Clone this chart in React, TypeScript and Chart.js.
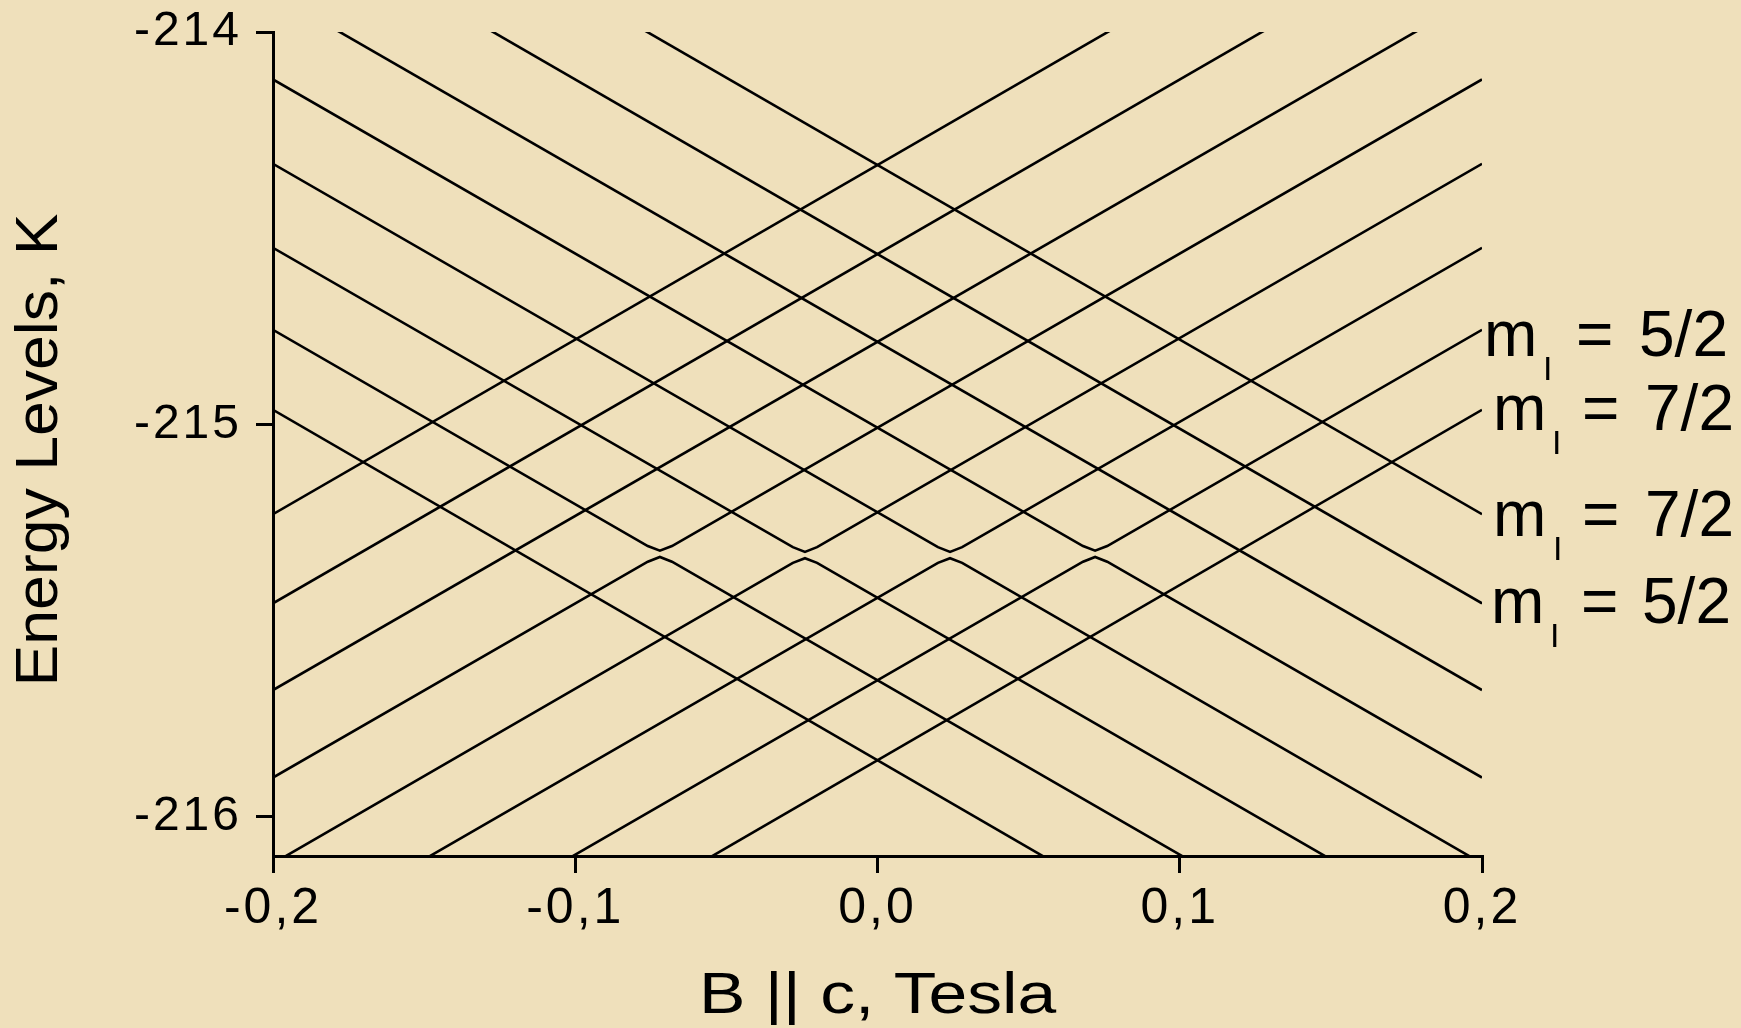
import React, { useEffect, useRef } from 'react';
import { Chart, registerables } from 'chart.js';

Chart.register(...registerables);

// ---------- data ----------
const X_MIN = -0.2;
const X_MAX = 0.2;
const Y_MIN = -216.1;
const Y_MAX = -214;

const X_TICKS = [-0.2, -0.1, 0, 0.1, 0.2];
const X_TICK_LABELS = ['-0,2', '-0,1', '0,0', '0,1', '0,2'];
const Y_TICKS = [-216, -215, -214];
const Y_TICK_LABELS = ['-216', '-215', '-214'];

const X_TITLE = 'B || c, Tesla';
const Y_TITLE = 'Energy Levels, K';

// field values at the two ends of every level
const B_ENDS = [-0.2, 0.2];
// energies (K) of the 8 levels falling with field, at B = -0.2 and B = +0.2
const FALLING_LEFT = [-213.449, -213.676, -213.902, -214.121, -214.336, -214.55, -214.759, -214.963];
const FALLING_RIGHT = [-215.229, -215.456, -215.677, -215.9, -216.119, -216.331, -216.541, -216.749];
// energies (K) of the 8 levels rising with field, at B = -0.2 and B = +0.2
const RISING_LEFT = [-215.229, -215.456, -215.677, -215.9, -216.119, -216.331, -216.541, -216.749];
const RISING_RIGHT = [-213.449, -213.676, -213.902, -214.121, -214.336, -214.55, -214.759, -214.963];
// levels that cross every other level without a gap
const PLAIN_LEVELS = [0, 1, 2, 7];

// anticrossing branches, [B (T), E (K)]
const AC1_UPPER = [[-0.2, -214.55], [-0.028, -215.313], [-0.024, -215.325], [-0.02, -215.313], [0.2, -214.336]];
const AC1_LOWER = [[-0.2, -216.119], [-0.028, -215.353], [-0.024, -215.341], [-0.02, -215.353], [0.2, -216.331]];
const AC2_UPPER = [[-0.2, -214.336], [0.02, -215.313], [0.024, -215.325], [0.028, -215.313], [0.2, -214.55]];
const AC2_LOWER = [[-0.2, -216.331], [0.02, -215.353], [0.024, -215.341], [0.028, -215.353], [0.2, -216.119]];
const AC3_UPPER = [[-0.2, -214.759], [-0.076, -215.31], [-0.072, -215.322], [-0.068, -215.31], [0.2, -214.121]];
const AC3_LOWER = [[-0.2, -215.9], [-0.076, -215.35], [-0.072, -215.338], [-0.068, -215.35], [0.2, -216.541]];
const AC4_UPPER = [[-0.2, -214.121], [0.068, -215.31], [0.072, -215.322], [0.076, -215.31], [0.2, -214.759]];
const AC4_LOWER = [[-0.2, -216.541], [0.068, -215.35], [0.072, -215.338], [0.076, -215.35], [0.2, -215.9]];
const AC_BRANCHES = [AC1_UPPER, AC1_LOWER, AC2_UPPER, AC2_LOWER, AC3_UPPER, AC3_LOWER, AC4_UPPER, AC4_LOWER];

// right-hand labels: m_I value and the level energy at B = +0.2 they sit next to
const LABEL_VALUES = ['5/2', '7/2', '7/2', '5/2'];
const LABEL_ANCHOR_E = [-214.759, -214.963, -215.229, -215.456];

// ---------- styles ----------
const FONT = '"Liberation Sans", Arial, Helvetica, sans-serif';
const BG = '#EFE0BB';
// per-label pixel offsets from the right edge of the plot: m, subscript, "=", fraction
const LABEL_DX_M = [2, 11, 11, 9];
const LABEL_DX_SUB = [61, 70, 71, 68];
const LABEL_DX_EQ = [94, 100, 100, 99];
const LABEL_DX_FRAC = [157, 163, 163, 160];
const LABEL_DY = [26, 20, 22, 20];

const bgPlugin = {
  id: 'bgFill',
  beforeDraw(chart: any) {
    const { ctx, width, height } = chart;
    ctx.save();
    ctx.fillStyle = BG;
    ctx.fillRect(0, 0, width, height);
    ctx.restore();
    // slightly wider tick lettering, like the reference
    (ctx as any).letterSpacing = '3px';
  },
};

const textPlugin = {
  id: 'texts',
  afterDraw(chart: any) {
    const { ctx, chartArea, scales } = chart;
    ctx.save();
    (ctx as any).letterSpacing = '0px';
    ctx.fillStyle = '#000';
    ctx.textAlign = 'left';
    ctx.textBaseline = 'alphabetic';

    // right-hand m_I labels
    LABEL_VALUES.forEach((frac, i) => {
      const y = scales.y.getPixelForValue(LABEL_ANCHOR_E[i]) + LABEL_DY[i];
      const x = chartArea.right;
      ctx.font = `64px ${FONT}`;
      ctx.fillText('m', x + LABEL_DX_M[i], y);
      ctx.fillText('=', x + LABEL_DX_EQ[i], y);
      ctx.fillText(frac, x + LABEL_DX_FRAC[i], y);
      ctx.font = `34px ${FONT}`;
      ctx.fillText('I', x + LABEL_DX_SUB[i], y + 24);
    });

    // axis titles
    ctx.textAlign = 'center';
    ctx.save();
    ctx.font = `58px ${FONT}`;
    ctx.translate((chartArea.left + chartArea.right) / 2, chartArea.bottom + 157);
    ctx.scale(1.2, 1);
    ctx.fillText(X_TITLE, 0, 0);
    ctx.restore();

    ctx.save();
    ctx.font = `59px ${FONT}`;
    ctx.translate(57, (chartArea.top + chartArea.bottom) / 2 + 6);
    ctx.rotate(-Math.PI / 2);
    ctx.scale(1.06, 1);
    ctx.fillText(Y_TITLE, 0, 0);
    ctx.restore();

    ctx.restore();
  },
};

export default function App() {
  const canvasRef = useRef<HTMLCanvasElement | null>(null);

  useEffect(() => {
    const canvas = canvasRef.current;
    if (!canvas) return;

    const lineStyle = { borderColor: '#000', borderWidth: 2.6, pointRadius: 0, showLine: true, tension: 0, fill: false };
    const datasets: any[] = [];
    PLAIN_LEVELS.forEach((k) => {
      datasets.push({
        ...lineStyle,
        data: [
          { x: B_ENDS[0], y: FALLING_LEFT[k] },
          { x: B_ENDS[1], y: FALLING_RIGHT[k] },
        ],
      });
      datasets.push({
        ...lineStyle,
        data: [
          { x: B_ENDS[0], y: RISING_LEFT[k] },
          { x: B_ENDS[1], y: RISING_RIGHT[k] },
        ],
      });
    });
    AC_BRANCHES.forEach((br) => {
      datasets.push({ ...lineStyle, data: br.map(([x, y]) => ({ x, y })) });
    });

    const chart = new Chart(canvas, {
      type: 'scatter',
      data: { datasets },
      plugins: [bgPlugin, textPlugin],
      options: {
        animation: false,
        responsive: false,
        maintainAspectRatio: false,
        layout: { padding: { top: 32, right: 259, left: 0, bottom: 0 } },
        plugins: { legend: { display: false }, tooltip: { enabled: false } },
        scales: {
          x: {
            type: 'linear',
            position: 'bottom',
            min: X_MIN,
            max: X_MAX,
            afterBuildTicks: (s: any) => {
              s.ticks = X_TICKS.map((v) => ({ value: v }));
            },
            afterFit: (s: any) => {
              s.height = 172;
            },
            ticks: {
              autoSkip: false,
              maxRotation: 0,
              padding: 6,
              color: '#000',
              font: { family: FONT, size: 50 },
              callback: (v: any) => {
                const i = X_TICKS.findIndex((t) => Math.abs(t - Number(v)) < 1e-9);
                return i >= 0 ? X_TICK_LABELS[i] : '';
              },
            },
            grid: { drawOnChartArea: false, drawTicks: true, tickLength: 17, color: '#000', lineWidth: 3 },
            border: { display: true, color: '#000', width: 3 },
            title: { display: false },
          },
          y: {
            type: 'linear',
            position: 'left',
            min: Y_MIN,
            max: Y_MAX,
            afterBuildTicks: (s: any) => {
              s.ticks = Y_TICKS.map((v) => ({ value: v }));
            },
            afterFit: (s: any) => {
              s.width = 273;
            },
            ticks: {
              autoSkip: false,
              padding: 14,
              color: '#000',
              font: { family: FONT, size: 48, lineHeight: 0.7 },
              callback: (v: any) => {
                const i = Y_TICKS.findIndex((t) => Math.abs(t - Number(v)) < 1e-9);
                return i >= 0 ? Y_TICK_LABELS[i] : '';
              },
            },
            grid: { drawOnChartArea: false, drawTicks: true, tickLength: 17, color: '#000', lineWidth: 3 },
            border: { display: true, color: '#000', width: 3 },
            title: { display: false },
          },
        },
      },
    });

    return () => {
      chart.destroy();
    };
  }, []);

  return (
    <div style={{ position: 'absolute', left: 0, top: 0, width: 1741, height: 1028, background: BG, overflow: 'hidden' }}>
      <canvas ref={canvasRef} width={1741} height={1028} style={{ display: 'block', width: 1741, height: 1028 }} />
    </div>
  );
}
